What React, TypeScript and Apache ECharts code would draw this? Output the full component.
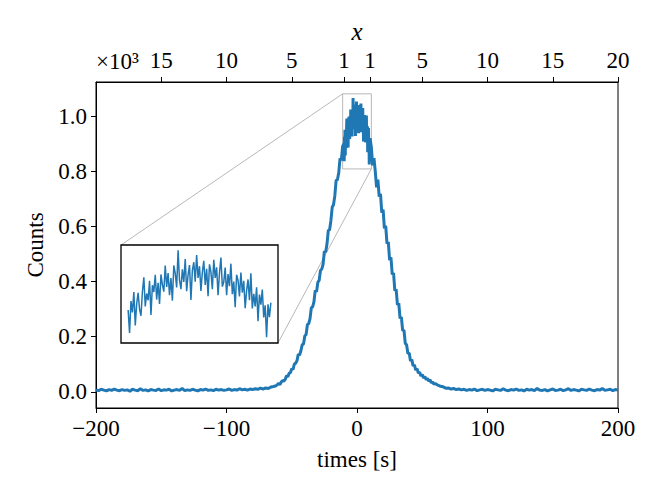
import React, { useEffect, useRef } from "react";
import * as echarts from "echarts";

const leftTailStart = -200;
const leftTailStep = 2;
const leftTail = [
  7, 4, 9, 6, 3, 8, 5, 10, 6, 4,
  8, 5, 7, 2, 9, 6, 4, 11, 5, 7,
  3, 8, 6, 5, 10, 4, 7, 6, 9, 3,
  6, 8, 5, 12, 4, 7, 5, 9, 6, 3,
  8, 6, 10, 5, 7, 4, 9, 6, 8, 5,
  7, 10, 5, 8, 6, 11, 7, 9, 6, 10,
  8, 11, 9, 13, 10, 14, 12, 17, 19, 22,
];

const leftFlankStart = -60;
const leftFlankStep = 1;
const leftFlank = [
  31, 26, 36, 40, 39, 45, 58, 55, 67, 70,
  84, 81, 101, 104, 113, 136, 133, 149, 171, 174,
  203, 208, 244, 248, 266, 305, 309, 327, 368, 363,
  398, 405, 441, 446, 463, 511, 508, 537, 586, 589,
  622, 671, 680, 712, 768, 771, 796, 848, 841, 893,
];

const centerStart = -10;
const centerStep = 0.2;
const center = [
  902, 838, 927, 895, 952, 859, 920, 950, 904, 886,
  952, 993, 912, 948, 929, 983, 888, 971, 952, 1000,
  931, 978, 919, 1001, 972, 953, 1026, 966, 1005, 943,
  991, 928, 1026, 1004, 965, 1068, 985, 960, 1015, 980,
  1044, 954, 1000, 1027, 930, 1012, 1035, 981, 1055, 991,
  1024, 955, 1007, 1039, 972, 1017, 940, 1029, 1008, 960,
  1042, 991, 1021, 943, 1005, 1048, 967, 980, 1020, 943,
  1002, 968, 1031, 946, 981, 910, 1000, 984, 940, 1006,
  950, 983, 907, 956, 987, 929, 1004, 906, 947, 912,
  965, 871, 945, 917, 959, 881, 915, 826, 918, 882,
  922,
];

const rightFlankStart = 11;
const rightFlankStep = 1;
const rightFlank = [
  889, 823, 849, 801, 743, 771, 709, 719, 651, 662,
  594, 603, 538, 545, 478, 489, 427, 431, 368, 372,
  316, 322, 267, 271, 222, 224, 176, 171, 139, 141,
  112, 117, 94, 98, 79, 84, 68, 71, 57, 63,
  50, 55, 44, 49, 39, 43, 32, 36, 27, 30,
];

const rightTailStart = 62;
const rightTailStep = 2;
const rightTail = [
  24, 20, 18, 13, 14, 10, 12, 8, 10, 7,
  9, 5, 8, 6, 10, 4, 7, 9, 5, 8,
  6, 3, 9, 7, 5, 11, 6, 4, 8, 6,
  10, 5, 7, 3, 9, 6, 8, 4, 12, 6,
  5, 8, 3, 7, 10, 5, 6, 9, 4, 7,
  11, 5, 8, 6, 3, 9, 7, 5, 10, 6,
  4, 8, 6, 12, 5, 7, 9, 4, 8, 6,
];

// Axes
const xRange = [-200, 200];
const yRange = [-59, 1126];
const topTicks = [-150, -100, -50, -10, 10, 50, 100, 150, 200];
const topTickLabels = ["15", "10", "5", "1", "1", "5", "10", "15", "20"];
const yTicks = [0, 200, 400, 600, 800, 1000];
const yTickLabels = ["0.0", "0.2", "0.4", "0.6", "0.8", "1.0"];
const yScaleText = "\u00d710\u00b3";
const insetX = [-11, 11];
const insetY = [810, 1083];

const FONT = "Liberation Serif";
const BLUE = "#1f77b4";

function seg(t0: number, dt: number, vals: number[]): number[][] {
  return vals.map((v, i) => [Math.round((t0 + i * dt) * 10) / 10, v]);
}

const centerPts = seg(centerStart, centerStep, center);
const allPts = [
  ...seg(leftTailStart, leftTailStep, leftTail),
  ...seg(leftFlankStart, leftFlankStep, leftFlank),
  ...centerPts,
  ...seg(rightFlankStart, rightFlankStep, rightFlank),
  ...seg(rightTailStart, rightTailStep, rightTail),
];

const fmtMinus = (v: number) => (v < 0 ? "\u2212" + Math.abs(v) : String(v));

export default function App() {
  const ref = useRef<HTMLDivElement>(null);
  useEffect(() => {
    if (!ref.current) return;
    const chart = echarts.init(ref.current, undefined, { renderer: "svg" });
    const tickStyle = { color: "#000", width: 1 };
    const lbl = { color: "#000", fontFamily: FONT, fontSize: 23 };
    chart.setOption({
      animation: false,
      backgroundColor: "#fff",
      grid: [
        { left: 96, top: 82, width: 522, height: 326, show: true, borderColor: "#000", borderWidth: 1, backgroundColor: "transparent" },
        { left: 121, top: 245, width: 157, height: 98, show: true, borderColor: "#000", borderWidth: 1.3, backgroundColor: "#fff", z: 3 },
      ],
      xAxis: [
        {
          type: "value", gridIndex: 0, position: "bottom", min: xRange[0], max: xRange[1], interval: 100,
          axisLine: { show: true, onZero: false, lineStyle: tickStyle },
          axisTick: { show: true, inside: false, length: 5, lineStyle: tickStyle },
          axisLabel: { ...lbl, margin: 9, formatter: fmtMinus },
          splitLine: { show: false },
          name: "times [s]", nameLocation: "middle", nameGap: 40,
          nameTextStyle: { ...lbl },
        },
        {
          type: "value", gridIndex: 0, position: "top", min: xRange[0], max: xRange[1],
          axisLine: { show: true, onZero: false, lineStyle: tickStyle },
          axisTick: { show: true, inside: false, length: 5, lineStyle: tickStyle, customValues: topTicks },
          axisLabel: {
            ...lbl, margin: 10, customValues: topTicks,
            formatter: (v: number) => { const i = topTicks.indexOf(v); return i >= 0 ? topTickLabels[i] : ""; },
          },
          splitLine: { show: false },
          name: "x", nameLocation: "middle", nameGap: 30,
          nameTextStyle: { ...lbl, fontSize: 25, fontStyle: "italic" },
        },
        { type: "value", gridIndex: 1, min: insetX[0], max: insetX[1], show: false },
      ],
      yAxis: [
        {
          type: "value", gridIndex: 0, min: yRange[0], max: yRange[1],
          axisLine: { show: true, onZero: false, lineStyle: tickStyle },
          axisTick: { show: true, inside: false, length: 5, lineStyle: tickStyle, customValues: yTicks },
          axisLabel: {
            ...lbl, margin: 9, customValues: yTicks,
            formatter: (v: number) => { const i = yTicks.indexOf(v); return i >= 0 ? yTickLabels[i] : ""; },
          },
          splitLine: { show: false },
          name: "Counts", nameLocation: "middle", nameGap: 46,
          nameTextStyle: { ...lbl },
        },
        { type: "value", gridIndex: 1, min: insetY[0], max: insetY[1], show: false },
        {
          type: "value", gridIndex: 0, position: "left", offset: 0, min: yRange[0], max: yRange[1],
          axisLine: { show: false, onZero: false }, axisTick: { show: false }, axisLabel: { show: false }, splitLine: { show: false },
          name: yScaleText, nameLocation: "end", nameGap: 9,
          nameTextStyle: { ...lbl, align: "left", verticalAlign: "bottom" },
        },
      ],
      series: [
        {
          type: "line", xAxisIndex: 0, yAxisIndex: 0, data: allPts, showSymbol: false, symbol: "none",
          lineStyle: { color: BLUE, width: 3 }, clip: true, silent: true, z: 2,
        },
        {
          type: "line", xAxisIndex: 2, yAxisIndex: 1, data: centerPts, showSymbol: false, symbol: "none",
          lineStyle: { color: BLUE, width: 1.5 }, clip: true, silent: true, z: 4,
        },
      ],
    });

    const a = chart.convertToPixel({ gridIndex: 0 }, [insetX[0], insetY[1]]) as number[];
    const b = chart.convertToPixel({ gridIndex: 0 }, [insetX[1], insetY[0]]) as number[];
    const c = chart.convertToPixel({ gridIndex: 1 }, [insetX[0], insetY[1]]) as number[];
    const d = chart.convertToPixel({ gridIndex: 1 }, [insetX[1], insetY[0]]) as number[];
    const gray = { stroke: "#a6a6a6", lineWidth: 0.8, fill: "none" };
    chart.setOption({
      graphic: [
        { type: "rect", z: 1, shape: { x: a[0], y: a[1], width: b[0] - a[0], height: b[1] - a[1] }, style: { ...gray } },
        { type: "line", z: 1, shape: { x1: c[0], y1: c[1], x2: a[0], y2: a[1] }, style: { ...gray } },
        { type: "line", z: 1, shape: { x1: d[0], y1: d[1], x2: b[0], y2: b[1] }, style: { ...gray } },
      ],
    });
    return () => chart.dispose();
  }, []);
  return <div ref={ref} style={{ position: "fixed", left: 0, top: 0, width: 664, height: 498 }} />;
}
